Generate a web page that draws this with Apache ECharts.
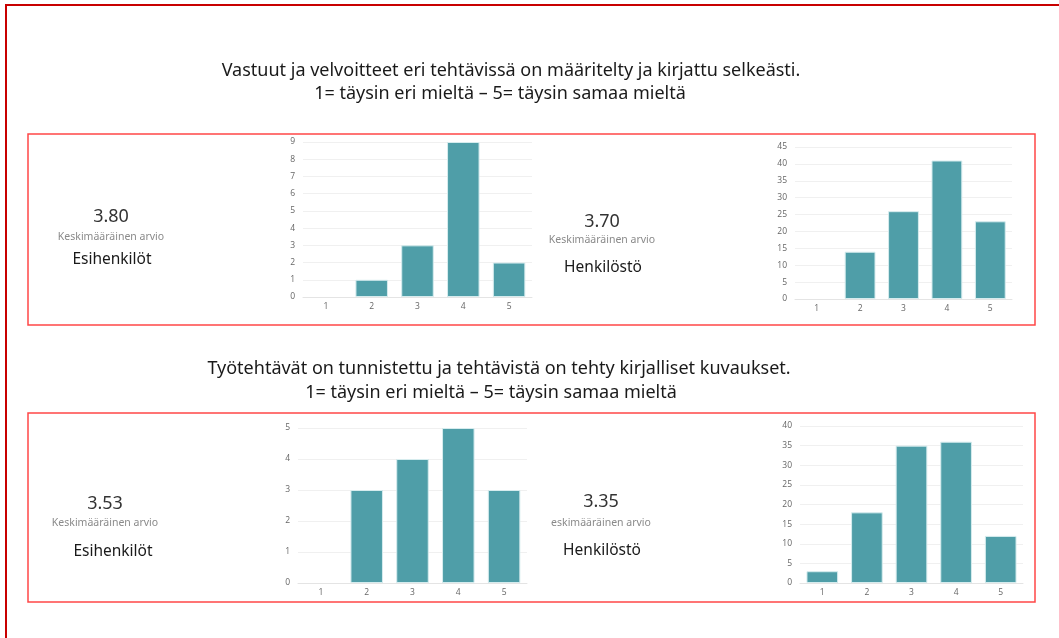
<!DOCTYPE html>
<html>
<head>
<meta charset="utf-8">
<script src="https://cdn.jsdelivr.net/npm/echarts@6/dist/echarts.min.js"></script>
<style>
  html, body { margin: 0; padding: 0; background: #fff; }
  #main { width: 1059px; height: 638px; }
</style>
</head>
<body>
<div id="main"></div>
<script>
// arviot 1-5
var categories = ['1', '2', '3', '4', '5'];
// Vastuut ja velvoitteet...
var esihenkilot1 = [0, 1, 3, 9, 2];
var henkilosto1 = [0, 14, 26, 41, 23];
// Työtehtävät on tunnistettu...
var esihenkilot2 = [0, 3, 4, 5, 3];
var henkilosto2 = [3, 18, 35, 36, 12];

var yMax = [9, 45, 5, 40];
var yStep = [1, 5, 1, 5];
var averages = ['3.80', '3.70', '3.53', '3.35'];
var avgLabels = ['Keskimääräinen arvio', 'Keskimääräinen arvio', 'Keskimääräinen arvio', 'eskimääräinen arvio'];
var groups = ['Esihenkilöt', 'Henkilöstö', 'Esihenkilöt', 'Henkilöstö'];
var titles = [
    ['Vastuut ja velvoitteet eri tehtävissä on määritelty ja kirjattu selkeästi.', '1= täysin eri mieltä – 5= täysin samaa mieltä'],
    ['Työtehtävät on tunnistettu ja tehtävistä on tehty kirjalliset kuvaukset.', '1= täysin eri mieltä – 5= täysin samaa mieltä']
];

var barColor = '#4f9ea8';
var font = '"Open Sans", "Noto Sans", sans-serif';

var myChart = echarts.init(document.getElementById('main'));

var grids = [
    { left: 303, right: 527, top: 142, bottom: 341 },
    { left: 795, right: 47, top: 147, bottom: 339 },
    { left: 298, right: 532, top: 428, bottom: 55 },
    { left: 800, right: 36, top: 426, bottom: 55 }
];
var seriesData = [esihenkilot1, henkilosto1, esihenkilot2, henkilosto2];

var xAxes = [], yAxes = [], series = [];
for (var i = 0; i < 4; i++) {
    xAxes.push({
        type: 'category',
        gridIndex: i,
        data: categories,
        axisLine: { lineStyle: { color: '#e4e4e4' } },
        axisTick: { show: false },
        axisLabel: { color: '#666', fontSize: 8.5, margin: 5, fontFamily: font }
    });
    yAxes.push({
        type: 'value',
        gridIndex: i,
        min: 0,
        max: yMax[i],
        interval: yStep[i],
        axisLine: { show: false },
        axisTick: { show: false },
        axisLabel: { color: '#666', fontSize: 8.5, margin: 8, fontFamily: font },
        splitLine: { lineStyle: { color: '#f0f0f0' } }
    });
    series.push({
        type: 'bar',
        xAxisIndex: i,
        yAxisIndex: i,
        // nollapalkeille ei reunaviivaa
        data: seriesData[i].map(function (v) {
            return v === 0 ? { value: v, itemStyle: { borderWidth: 0 } } : v;
        }),
        barCategoryGap: '29%',
        itemStyle: { color: barColor, borderColor: '#d6ecee', borderWidth: 1 }
    });
}

// tekstit ja kehykset
var graphic = [
    { type: 'rect', shape: { x: 6, y: 5, width: 1100, height: 700 }, style: { fill: 'none', stroke: '#c80000', lineWidth: 2 }, z: 100 },
    { type: 'rect', shape: { x: 28, y: 134, width: 1007, height: 191 }, style: { fill: 'none', stroke: '#ff4747', lineWidth: 1.5 }, z: 100 },
    { type: 'rect', shape: { x: 28, y: 413, width: 1007, height: 189 }, style: { fill: 'none', stroke: '#ff4747', lineWidth: 1.5 }, z: 100 }
];
// [x rivi 1, y rivi 1, x rivi 2, y rivi 2]
var titlePos = [[511, 71, 500, 94], [499, 369, 491, 393]];
titles.forEach(function (t, k) {
    graphic.push({ type: 'text', x: titlePos[k][0], y: titlePos[k][1], style: { text: t[0], fill: '#1a1a1a', font: '18px "Noto Sans", sans-serif', align: 'center', verticalAlign: 'middle' } });
    graphic.push({ type: 'text', x: titlePos[k][2], y: titlePos[k][3], style: { text: t[1], fill: '#1a1a1a', font: '18px "Noto Sans", sans-serif', align: 'center', verticalAlign: 'middle' } });
});
var kpiPos = [
    [111, 217, 237, 112, 260],
    [602, 222, 240, 603, 268],
    [105, 504, 523, 113, 552],
    [601, 502, 523, 602, 551]
];
kpiPos.forEach(function (p, k) {
    graphic.push({ type: 'text', x: p[0], y: p[1], style: { text: averages[k], fill: '#333', font: '18px "Noto Sans", sans-serif', align: 'center', verticalAlign: 'middle' } });
    graphic.push({ type: 'text', x: p[0], y: p[2], style: { text: avgLabels[k], fill: '#8a8a8a', font: '10.5px "Noto Sans", sans-serif', align: 'center', verticalAlign: 'middle' } });
    graphic.push({ type: 'text', x: p[3], y: p[4], style: { text: groups[k], fill: '#1a1a1a', font: '15.5px "Noto Sans", sans-serif', align: 'center', verticalAlign: 'middle' } });
});

var option = {
    backgroundColor: '#fff',
    animation: false,
    grid: grids,
    xAxis: xAxes,
    yAxis: yAxes,
    series: series,
    graphic: graphic
};
myChart.setOption(option);
</script>
</body>
</html>
